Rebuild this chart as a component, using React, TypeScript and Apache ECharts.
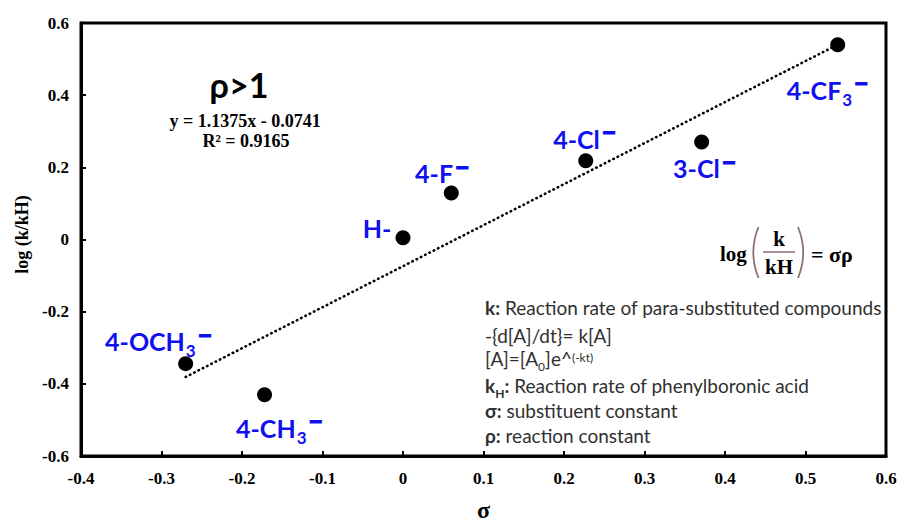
import React, { useEffect, useRef } from 'react';
import * as echarts from 'echarts';

// ---- data ----
const substituents = ['4-OCH3', '4-CH3', 'H', '4-F', '4-Cl', '3-Cl', '4-CF3'];
const sigma = [-0.27, -0.172, 0.0, 0.06, 0.227, 0.371, 0.54];
const logK = [-0.344, -0.43, 0.005, 0.129, 0.218, 0.27, 0.54];
const trendSigma = [-0.27, 0.54];
const trendLogK = [-0.381, 0.54];
const equationText = 'y = 1.1375x - 0.0741';
const r2Text = 'R² = 0.9165';

// ---- layout (not data) ----
const labelOffsets = [
  [-27, -23.5],
  [15, 32],
  [-26, -13.75],
  [-9, -23.25],
  [-1, -25.75],
  [3, 22.25],
  [-10, 44],
];

const SERIF = "'Liberation Serif', 'Times New Roman', serif";
const SANS = "Lato, 'Open Sans', 'DejaVu Sans', sans-serif";
const BLUE = '#0f0ff0';
const TXT = '#303030';
const BROWN = '#8c7070';

function richLabel(name: string): string {
  if (name === 'H') return '{a|H-}';
  const m = name.match(/^(.*[A-Z])(\d)$/);
  if (m) return `{a|${m[1]}}{s|${m[2]}}{m|−}`;
  return `{a|${name}}{m|−}`;
}

function tickFmt(v: number): string {
  return String(Number(v.toFixed(1)));
}

export default function App() {
  const ref = useRef<HTMLDivElement>(null);
  useEffect(() => {
    document.body.style.margin = '0';
    const chart = echarts.init(ref.current!, null, { renderer: 'svg' });

    const points = sigma.map((s, i) => ({
      value: [s, logK[i]],
      label: { offset: labelOffsets[i] },
    }));
    const trend = trendSigma.map((s, i) => [s, trendLogK[i]]);

    const FS = 19;
    const blockRich = {
      r: { fontFamily: SANS, fontSize: FS, color: TXT, lineHeight: 22, verticalAlign: 'top' },
      b: { fontFamily: SANS, fontSize: FS, fontWeight: 'bold', color: TXT, lineHeight: 22, verticalAlign: 'top' },
      bs: { fontFamily: SANS, fontSize: 12, fontWeight: 'bold', color: TXT, lineHeight: 12, padding: [11, 0, 0, 0], verticalAlign: 'top' },
      sb: { fontFamily: SANS, fontSize: 12, color: TXT, lineHeight: 12, padding: [11, 0, 0, 0], verticalAlign: 'top' },
      sp: { fontFamily: SANS, fontSize: 12, color: TXT, lineHeight: 12, padding: [2, 0, 0, 0], verticalAlign: 'top' },
    };
    const blockLines = [
      '{b|k:}{r| Reaction rate of para-substituted compounds}',
      null,
      '{r|[A]=[A}{sb|0}{r|]e^}{sp|(-kt)}',
      '{b|k}{bs|H}{b|:}{r| Reaction rate of phenylboronic acid}',
      '{b|σ:}{r| substituent constant}',
      '{b|ρ:}{r| reaction constant}',
    ];
    const plainLine2 = '-{d[A]/dt}= k[A]';
    const blockY = [309, 335, 360, 387, 412, 437];

    const graphic: any[] = [
      {
        type: 'text', x: 239, y: 84,
        style: { text: 'ρ>1', font: `bold 34px ${SANS}`, fill: '#000', align: 'center', verticalAlign: 'middle' },
      },
      {
        type: 'text', x: 245, y: 121,
        style: { text: equationText, font: `bold 18px ${SERIF}`, fill: '#000', align: 'center', verticalAlign: 'middle' },
      },
      {
        type: 'text', x: 246, y: 141,
        style: { text: r2Text, font: `bold 18px ${SERIF}`, fill: '#000', align: 'center', verticalAlign: 'middle' },
      },
      // log(k/kH) = σρ
      {
        type: 'text', x: 720, y: 254,
        style: { text: 'log', font: `bold 21px ${SERIF}`, fill: '#000', align: 'left', verticalAlign: 'middle' },
      },
      {
        type: 'arc',
        shape: { cx: 821, cy: 252.5, r: 67.5, startAngle: Math.PI - 0.387, endAngle: Math.PI + 0.387, clockwise: true },
        style: { stroke: BROWN, lineWidth: 1.8, fill: 'none' },
      },
      {
        type: 'text', x: 779, y: 239,
        style: { text: 'k', font: `bold 21px ${SERIF}`, fill: '#000', align: 'center', verticalAlign: 'middle' },
      },
      {
        type: 'line', shape: { x1: 763, y1: 252, x2: 795, y2: 252 },
        style: { stroke: BROWN, lineWidth: 1.5 },
      },
      {
        type: 'text', x: 779, y: 267,
        style: { text: 'kH', font: `bold 21px ${SERIF}`, fill: '#000', align: 'center', verticalAlign: 'middle' },
      },
      {
        type: 'arc',
        shape: { cx: 735.5, cy: 252.5, r: 67.5, startAngle: -0.387, endAngle: 0.387, clockwise: true },
        style: { stroke: BROWN, lineWidth: 1.8, fill: 'none' },
      },
      {
        type: 'text', x: 811, y: 254,
        style: { text: '= σρ', font: `bold 22px ${SERIF}`, fill: '#000', align: 'left', verticalAlign: 'middle' },
      },
      ...blockLines.map((t, i) =>
        t === null
          ? {
              type: 'text', x: 485, y: blockY[i],
              style: { text: plainLine2, font: `${FS}px ${SANS}`, fill: TXT, align: 'left', verticalAlign: 'middle' },
            }
          : {
              type: 'text', x: 485, y: blockY[i],
              style: { text: t, rich: blockRich, align: 'left', verticalAlign: 'middle', fontFamily: SANS, fontSize: FS, fill: TXT },
            }
      ),
    ];

    chart.setOption({
      animation: false,
      backgroundColor: '#ffffff',
      grid: {
        left: 81, right: 15, top: 23, bottom: 66,
        show: true, borderColor: '#000', borderWidth: 3, backgroundColor: 'transparent',
      },
      xAxis: {
        type: 'value', min: -0.4, max: 0.6, interval: 0.1,
        axisLine: { onZero: false, lineStyle: { color: '#000', width: 3 } },
        axisTick: { inside: true, length: 5, lineStyle: { color: '#000', width: 2 } },
        axisLabel: { margin: 14, color: '#000', fontFamily: SERIF, fontWeight: 'bold', fontSize: 17, formatter: tickFmt },
        splitLine: { show: false },
        name: 'σ', nameLocation: 'middle', nameGap: 42,
        nameTextStyle: { fontFamily: SERIF, fontWeight: 'bold', fontSize: 24, color: '#000' },
      },
      yAxis: {
        type: 'value', min: -0.6, max: 0.6, interval: 0.2,
        axisLine: { onZero: false, lineStyle: { color: '#000', width: 3 } },
        axisTick: { inside: true, length: 5, lineStyle: { color: '#000', width: 2 } },
        axisLabel: { margin: 12, color: '#000', fontFamily: SERIF, fontWeight: 'bold', fontSize: 17, formatter: tickFmt },
        splitLine: { show: false },
        name: 'log (k/kH)', nameLocation: 'middle', nameGap: 50,
        nameTextStyle: { fontFamily: SERIF, fontWeight: 'bold', fontSize: 18, color: '#000', padding: [0, 0, 0, 10] },
      },
      series: [
        {
          type: 'line',
          data: trend,
          showSymbol: false,
          symbol: 'none',
          lineStyle: { color: '#000', width: 2.6, type: [0.5, 4.3], cap: 'round', opacity: 1 },
          silent: true,
          z: 2,
        },
        {
          type: 'scatter',
          data: points,
          symbol: 'circle',
          symbolSize: 15,
          itemStyle: { color: '#000', opacity: 1 },
          z: 3,
          label: {
            show: true,
            position: 'inside',
            opacity: 1,
            formatter: (p: any) => richLabel(substituents[p.dataIndex]),
            rich: {
              a: { fontFamily: SANS, fontWeight: 'bold', fontSize: 25, color: BLUE, padding: [7.5, 0, 0, 0], verticalAlign: 'top' },
              s: { fontFamily: SANS, fontWeight: 'bold', fontSize: 17, color: BLUE, padding: [21, 0, 0, 1], verticalAlign: 'top' },
              m: {
                fontFamily: SANS, fontWeight: 'bold', fontSize: 25, color: BLUE, padding: [0, 0, 0, 2], verticalAlign: 'top',
                textBorderColor: BLUE, textBorderWidth: 1.2,
              },
            },
          },
        },
      ],
      graphic,
    });
    return () => chart.dispose();
  }, []);
  return <div ref={ref} style={{ width: 901, height: 527 }} />;
}
